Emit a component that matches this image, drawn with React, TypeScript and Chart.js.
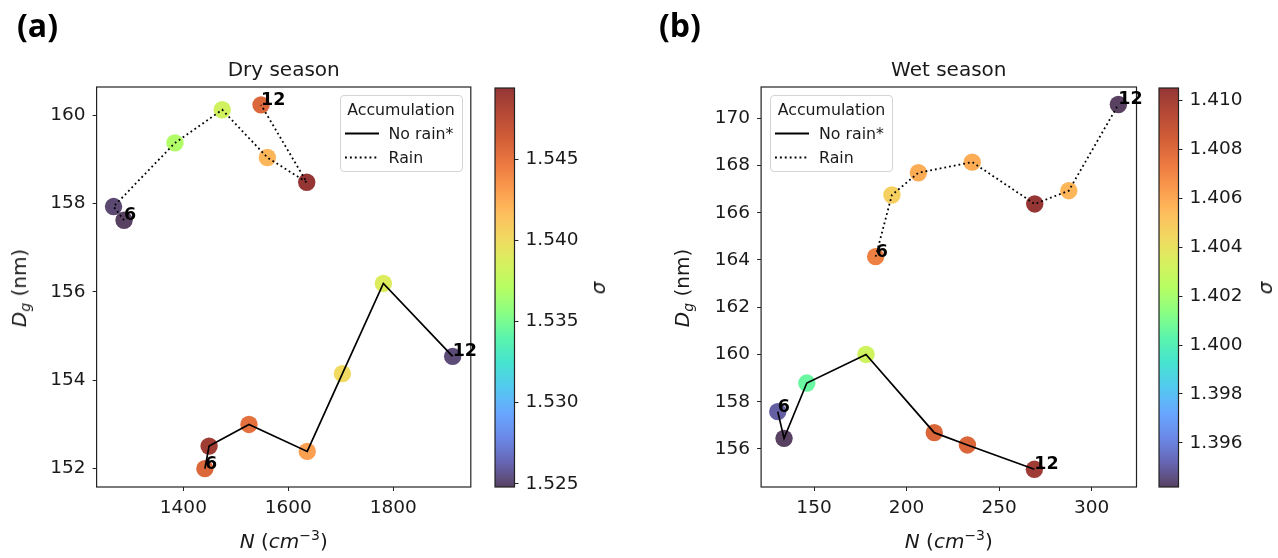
import React, { useEffect, useRef } from "react";
import { Chart, registerables } from "chart.js";

Chart.register(...registerables);

const FONT = "'DejaVu Sans', 'Liberation Sans', sans-serif";
const INK = "#1a1a1a";

// ---------------- Data ----------------
// Dry season
const dryNoRainN = [1441, 1449, 1525, 1636, 1703, 1781, 1913];
const dryNoRainDg = [152.0, 152.51, 153.0, 152.39, 154.15, 156.19, 154.54];
const dryNoRainSigma = [1.5457, 1.5489, 1.5452, 1.543, 1.5401, 1.5389, 1.5252];
const dryRainN = [1287, 1267, 1384, 1474, 1560, 1635, 1548];
const dryRainDg = [157.62, 157.93, 159.37, 160.12, 159.04, 158.48, 160.23];
const dryRainSigma = [1.5248, 1.5251, 1.5369, 1.5383, 1.542, 1.5494, 1.5457];
const dryXRange = [1234.7, 1947.6];
const dryYRange = [151.585, 160.635];
const dryXTicks = [1400, 1600, 1800];
const dryYTicks = [152, 154, 156, 158, 160];
const drySigmaTicks = [1.525, 1.53, 1.535, 1.54, 1.545];

// Wet season
const wetNoRainN = [130.4, 133.8, 146.1, 178.1, 215.0, 232.9, 269.1];
const wetNoRainDg = [157.58, 156.45, 158.79, 160.0, 156.69, 156.17, 155.14];
const wetNoRainSigma = [1.395, 1.3942, 1.4006, 1.4031, 1.4081, 1.4081, 1.4102];
const wetRainN = [183.3, 192.1, 206.4, 235.5, 269.3, 287.7, 314.5];
const wetRainDg = [164.14, 166.75, 167.69, 168.14, 166.37, 166.93, 170.58];
const wetRainSigma = [1.4072, 1.4047, 1.4059, 1.4059, 1.4105, 1.4056, 1.3942];
const wetXRange = [121.4, 324.3];
const wetYRange = [154.39, 171.32];
const wetXTicks = [150, 200, 250, 300];
const wetYTicks = [156, 158, 160, 162, 164, 166, 168, 170];
const wetSigmaTicks = [1.396, 1.398, 1.4, 1.402, 1.404, 1.406, 1.408, 1.41];

const panelTitles = ["Dry season", "Wet season"];
const panelTags = ["(a)", "(b)"];
const legendTitle = "Accumulation";
const legendLabels = ["No rain*", "Rain"];
const endLabels = ["6", "12"];

// ---------------- Helpers ----------------
// Turbo colormap anchors (every 16th entry of the 256-entry table)
const TURBO_ANCHORS = [
  [0.18995, 0.07176, 0.23217],
  [0.25107, 0.25237, 0.63374],
  [0.27628, 0.42118, 0.89123],
  [0.25862, 0.57267, 0.99836],
  [0.15844, 0.73551, 0.92305],
  [0.09267, 0.86554, 0.7623],
  [0.19659, 0.94901, 0.59466],
  [0.42778, 0.99419, 0.38575],
  [0.64362, 0.98999, 0.23356],
  [0.80473, 0.92452, 0.20459],
  [0.93301, 0.81236, 0.22667],
  [0.99314, 0.67408, 0.20348],
  [0.97679, 0.50194, 0.13278],
  [0.90066, 0.33644, 0.06331],
  [0.77377, 0.20487, 0.02253],
  [0.63323, 0.10738, 0.01099],
  [0.4796, 0.01583, 0.01055],
];
function turbo(t: number): number[] {
  const x = Math.max(0, Math.min(1, t)) * (TURBO_ANCHORS.length - 1);
  const i = Math.min(Math.floor(x), TURBO_ANCHORS.length - 2);
  const f = x - i;
  const a = TURBO_ANCHORS[i];
  const b = TURBO_ANCHORS[i + 1];
  return [0, 1, 2].map((k) => Math.round(255 * (a[k] + (b[k] - a[k]) * f)));
}
function rgba(c: number[], a: number) {
  return `rgba(${c[0]},${c[1]},${c[2]},${a})`;
}

const PLOT_TOP = 88;
const PLOT_BOTTOM = 487;
const FIG_H = 558;
const TICK_FONT = 18.5;
const TITLE_FONT = 20;
const ALPHA = 0.8;

type Series = { n: number[]; dg: number[]; s: number[] };
type PanelCfg = {
  idx: number;
  noRain: Series;
  rain: Series;
  xRange: number[];
  yRange: number[];
  xTicks: number[];
  yTicks: number[];
  sTicks: number[];
  originX: number;
  mainWidth: number;
  plotLeft: number;
  plotRight: number;
  cbLeft: number;
  cbRight: number;
  yTitleX: number;
  sigmaX: number;
  legendLeft: number;
  tagLeft: number;
};

const panels: PanelCfg[] = [
  {
    idx: 0,
    noRain: { n: dryNoRainN, dg: dryNoRainDg, s: dryNoRainSigma },
    rain: { n: dryRainN, dg: dryRainDg, s: dryRainSigma },
    xRange: dryXRange,
    yRange: dryYRange,
    xTicks: dryXTicks,
    yTicks: dryYTicks,
    sTicks: drySigmaTicks,
    originX: 0,
    mainWidth: 495,
    plotLeft: 96.6,
    plotRight: 470.8,
    cbLeft: 494.5,
    cbRight: 514,
    yTitleX: 20,
    sigmaX: 598,
    legendLeft: 339.5,
    tagLeft: 17,
  },
  {
    idx: 1,
    noRain: { n: wetNoRainN, dg: wetNoRainDg, s: wetNoRainSigma },
    rain: { n: wetRainN, dg: wetRainDg, s: wetRainSigma },
    xRange: wetXRange,
    yRange: wetYRange,
    xTicks: wetXTicks,
    yTicks: wetYTicks,
    sTicks: wetSigmaTicks,
    originX: 640,
    mainWidth: 515,
    plotLeft: 761.1,
    plotRight: 1136.5,
    cbLeft: 1159,
    cbRight: 1178.5,
    yTitleX: 683,
    sigmaX: 1265,
    legendLeft: 770,
    tagLeft: 659,
  },
];

function Panel({ cfg }: { cfg: PanelCfg }) {
  const mainRef = useRef<HTMLCanvasElement>(null);
  const cbRef = useRef<HTMLCanvasElement>(null);
  const CB_CANVAS_W = 110;
  const CB_PAD = 14;

  useEffect(() => {
    const allS = [...cfg.noRain.s, ...cfg.rain.s];
    const sLo = Math.min(...allS);
    const sHi = Math.max(...allS);
    const colorOf = (s: number) => rgba(turbo((s - sLo) / (sHi - sLo)), ALPHA);
    const pts = (ser: Series) => ser.n.map((x, i) => ({ x, y: ser.dg[i] }));

    const endLabelPlugin = {
      id: "endLabels",
      afterDatasetsDraw(chart: any) {
        const ctx = chart.ctx;
        const xs = chart.scales.x;
        const ys = chart.scales.y;
        ctx.save();
        ctx.font = `bold 17.5px ${FONT}`;
        ctx.fillStyle = "#000";
        ctx.textAlign = "left";
        ctx.textBaseline = "alphabetic";
        for (const ser of [cfg.noRain, cfg.rain]) {
          const last = ser.n.length - 1;
          ctx.fillText(endLabels[0], xs.getPixelForValue(ser.n[0]), ys.getPixelForValue(ser.dg[0]));
          ctx.fillText(endLabels[1], xs.getPixelForValue(ser.n[last]), ys.getPixelForValue(ser.dg[last]));
        }
        ctx.restore();
      },
    };
    const framePlugin = {
      id: "frame",
      afterDatasetsDraw(chart: any) {
        const { left, top, right, bottom } = chart.chartArea;
        const ctx = chart.ctx;
        ctx.save();
        ctx.strokeStyle = "#222";
        ctx.lineWidth = 1.2;
        ctx.strokeRect(left, top, right - left, bottom - top);
        ctx.restore();
      },
    };

    const titleH = TITLE_FONT * 1.2 + 5;
    const tickCfg = {
      font: { size: TICK_FONT, family: FONT },
      color: INK,
      maxRotation: 0,
      autoSkip: false,
      callback: (v: any) => String(v),
    };
    const gridCfg = {
      display: true,
      drawOnChartArea: false,
      drawTicks: true,
      tickLength: 4,
      color: "#222",
      lineWidth: 1,
    };

    const main = new Chart(mainRef.current as HTMLCanvasElement, {
      type: "scatter",
      data: {
        datasets: [
          {
            label: legendLabels[0],
            data: pts(cfg.noRain),
            showLine: true,
            borderColor: "#000",
            borderWidth: 1.7,
            pointRadius: 0,
            order: 0,
          },
          {
            label: legendLabels[1],
            data: pts(cfg.rain),
            showLine: true,
            borderColor: "#000",
            borderWidth: 1.8,
            borderDash: [1.8, 3],
            pointRadius: 0,
            order: 0,
          },
          {
            label: "σ " + legendLabels[0],
            data: pts(cfg.noRain),
            showLine: false,
            pointRadius: 8.7,
            pointBackgroundColor: cfg.noRain.s.map(colorOf),
            pointBorderWidth: 0,
            order: 1,
          },
          {
            label: "σ " + legendLabels[1],
            data: pts(cfg.rain),
            showLine: false,
            pointRadius: 8.7,
            pointBackgroundColor: cfg.rain.s.map(colorOf),
            pointBorderWidth: 0,
            order: 1,
          },
        ] as any,
      },
      options: {
        animation: false,
        responsive: false,
        layout: {
          padding: {
            left: 0,
            right: cfg.mainWidth - (cfg.plotRight - cfg.originX),
            top: PLOT_TOP - titleH,
            bottom: 0,
          },
        },
        plugins: {
          legend: { display: false },
          tooltip: { enabled: false },
          title: {
            display: true,
            text: panelTitles[cfg.idx],
            fullSize: false,
            color: INK,
            font: { size: TITLE_FONT, weight: "normal", family: FONT },
            padding: { top: 0, bottom: 4 },
          },
        },
        scales: {
          x: {
            type: "linear",
            position: "bottom",
            min: cfg.xRange[0],
            max: cfg.xRange[1],
            afterBuildTicks: (s: any) => {
              s.ticks = cfg.xTicks.map((v) => ({ value: v }));
            },
            afterFit: (s: any) => {
              s.height = FIG_H - PLOT_BOTTOM;
            },
            ticks: { ...tickCfg, padding: 6 },
            grid: gridCfg,
            border: { display: false },
          },
          y: {
            type: "linear",
            position: "left",
            min: cfg.yRange[0],
            max: cfg.yRange[1],
            afterBuildTicks: (s: any) => {
              s.ticks = cfg.yTicks.map((v) => ({ value: v }));
            },
            afterFit: (s: any) => {
              s.width = cfg.plotLeft - cfg.originX;
            },
            ticks: { ...tickCfg, padding: 7 },
            grid: gridCfg,
            border: { display: false },
          },
        },
      } as any,
      plugins: [framePlugin, endLabelPlugin],
    });

    const cbW = cfg.cbRight - cfg.cbLeft;
    const colorbarPlugin = {
      id: "colorbar",
      beforeDatasetsDraw(chart: any) {
        const { left, top, right, bottom } = chart.chartArea;
        const ctx = chart.ctx;
        const grad = ctx.createLinearGradient(0, bottom, 0, top);
        const N = 64;
        for (let i = 0; i <= N; i++) grad.addColorStop(i / N, rgba(turbo(i / N), ALPHA));
        ctx.save();
        ctx.fillStyle = grad;
        ctx.fillRect(left, top, right - left, bottom - top);
        ctx.strokeStyle = "#222";
        ctx.lineWidth = 1.2;
        ctx.strokeRect(left, top, right - left, bottom - top);
        ctx.restore();
      },
    };
    const cb = new Chart(cbRef.current as HTMLCanvasElement, {
      type: "scatter",
      data: { datasets: [] },
      options: {
        animation: false,
        responsive: false,
        layout: { padding: { left: CB_PAD, right: 0, top: PLOT_TOP, bottom: FIG_H - PLOT_BOTTOM } },
        plugins: { legend: { display: false }, tooltip: { enabled: false }, title: { display: false } },
        scales: {
          x: { display: false, min: 0, max: 1 },
          y: {
            type: "linear",
            position: "right",
            min: sLo,
            max: sHi,
            afterBuildTicks: (s: any) => {
              s.ticks = cfg.sTicks.map((v) => ({ value: v }));
            },
            afterFit: (s: any) => {
              s.width = CB_CANVAS_W - CB_PAD - cbW;
            },
            ticks: { ...tickCfg, padding: 7, callback: (v: any) => Number(v).toFixed(3) },
            grid: gridCfg,
            border: { display: false },
          },
        },
      } as any,
      plugins: [colorbarPlugin],
    });

    return () => {
      main.destroy();
      cb.destroy();
    };
  }, [cfg]);

  const plotCenter = (cfg.plotLeft + cfg.plotRight) / 2;
  const plotMid = (PLOT_TOP + PLOT_BOTTOM) / 2;
  const abs = { position: "absolute" as const };

  return (
    <>
      <canvas
        ref={mainRef}
        width={cfg.mainWidth}
        height={FIG_H}
        style={{ ...abs, left: cfg.originX, top: 0, width: cfg.mainWidth, height: FIG_H }}
      />
      <canvas
        ref={cbRef}
        width={CB_CANVAS_W}
        height={FIG_H}
        style={{ ...abs, left: cfg.cbLeft - CB_PAD, top: 0, width: CB_CANVAS_W, height: FIG_H }}
      />
      {/* panel tag */}
      <div
        style={{
          ...abs,
          left: cfg.tagLeft,
          top: 9,
          fontFamily: "'Open Sans', sans-serif",
          fontWeight: 700,
          fontSize: 32,
          lineHeight: "32px",
          color: "#000",
        }}
      >
        {panelTags[cfg.idx]}
      </div>
      {/* y axis title */}
      <div
        style={{
          ...abs,
          left: cfg.yTitleX,
          top: plotMid,
          transform: "translate(-50%, -50%) rotate(-90deg)",
          fontFamily: FONT,
          fontSize: TITLE_FONT,
          color: INK,
          whiteSpace: "nowrap",
          lineHeight: "24px",
        }}
      >
        <i>D</i>
        <span style={{ fontStyle: "italic", fontSize: "70%", position: "relative", top: "0.3em" }}>g</span> (nm)
      </div>
      {/* x axis title */}
      <div
        style={{
          ...abs,
          left: plotCenter,
          top: 542,
          transform: "translate(-50%, -50%)",
          fontFamily: FONT,
          fontSize: TITLE_FONT,
          color: INK,
          whiteSpace: "nowrap",
          lineHeight: "24px",
        }}
      >
        <i>N</i> (<i>cm</i>
        <span style={{ fontSize: "70%", position: "relative", top: "-0.55em" }}>−3</span>)
      </div>
      {/* colorbar label */}
      <div
        style={{
          ...abs,
          left: cfg.sigmaX,
          top: plotMid,
          transform: "translate(-50%, -50%) rotate(-90deg)",
          fontFamily: FONT,
          fontStyle: "italic",
          fontSize: TITLE_FONT,
          color: INK,
          lineHeight: "24px",
        }}
      >
        σ
      </div>
      {/* legend */}
      <div
        style={{
          ...abs,
          left: cfg.legendLeft,
          top: 95,
          width: 123,
          height: 77,
          boxSizing: "border-box",
          border: "1px solid #d4d4d4",
          borderRadius: 4,
          background: "rgba(255,255,255,0.8)",
          fontFamily: FONT,
          fontSize: 15.8,
          color: INK,
        }}
      >
        <div style={{ ...abs, left: 0, right: 0, top: 4, textAlign: "center", lineHeight: "19px" }}>{legendTitle}</div>
        {legendLabels.map((lab, i) => (
          <div key={lab} style={{ ...abs, left: 0, right: 0, top: 28 + i * 23.5, height: 19 }}>
            <svg width={40} height={19} style={{ ...abs, left: 3, top: 0 }}>
              <line
                x1={1}
                y1={9.5}
                x2={35}
                y2={9.5}
                stroke="#000"
                strokeWidth={i === 0 ? 2 : 1.9}
                strokeDasharray={i === 0 ? undefined : "1.9 3"}
              />
            </svg>
            <span style={{ ...abs, left: 48, top: 0, lineHeight: "19px", whiteSpace: "nowrap" }}>{lab}</span>
          </div>
        ))}
      </div>
    </>
  );
}

export default function App() {
  return (
    <div
      style={{
        position: "absolute",
        left: 0,
        top: 0,
        width: 1278,
        height: 558,
        background: "#fff",
        overflow: "hidden",
      }}
    >
      {panels.map((p) => (
        <Panel key={p.idx} cfg={p} />
      ))}
    </div>
  );
}
